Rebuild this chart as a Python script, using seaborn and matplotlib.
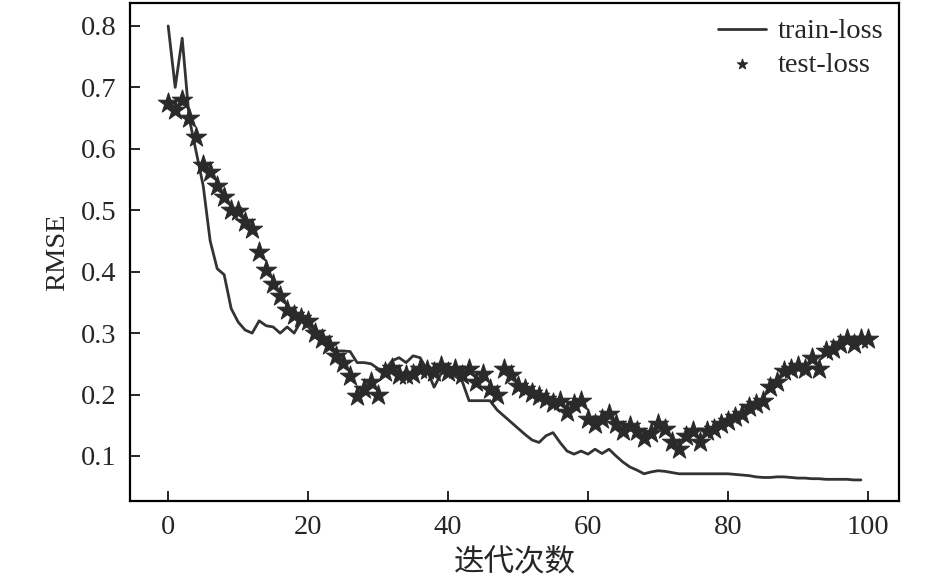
import numpy as np
import pandas as pd
import matplotlib
matplotlib.use("Agg")
import matplotlib.pyplot as plt
import seaborn as sns

# values
train_epoch = list(range(0, 100))
train_loss = [0.80, 0.70, 0.78, 0.65, 0.595, 0.54, 0.45, 0.405, 0.395, 0.34,
              0.318, 0.305, 0.30, 0.32, 0.312, 0.31, 0.30, 0.31, 0.30, 0.32,
              0.31, 0.30, 0.29, 0.28, 0.271, 0.271, 0.27, 0.252, 0.252, 0.25,
              0.242, 0.24, 0.255, 0.26, 0.252, 0.263, 0.26, 0.24, 0.212, 0.234,
              0.236, 0.23, 0.222, 0.19, 0.19, 0.19, 0.19, 0.175, 0.165, 0.155,
              0.145, 0.135, 0.126, 0.122, 0.133, 0.138, 0.122, 0.108, 0.103, 0.108,
              0.103, 0.111, 0.104, 0.111, 0.10, 0.09, 0.082, 0.077, 0.071, 0.074,
              0.076, 0.075, 0.073, 0.071, 0.071, 0.071, 0.071, 0.071, 0.071, 0.071,
              0.071, 0.07, 0.069, 0.068, 0.066, 0.065, 0.065, 0.066, 0.066, 0.065,
              0.064, 0.064, 0.063, 0.063, 0.062, 0.062, 0.062, 0.062, 0.061, 0.061]

test_epoch = list(range(0, 101))
test_loss = [0.674, 0.663, 0.68, 0.65, 0.62, 0.573, 0.562, 0.54, 0.521, 0.50,
             0.499, 0.481, 0.47, 0.432, 0.402, 0.38, 0.361, 0.337, 0.329, 0.324,
             0.32, 0.30, 0.29, 0.28, 0.263, 0.252, 0.23, 0.198, 0.209, 0.22,
             0.20, 0.236, 0.244, 0.231, 0.231, 0.234, 0.242, 0.24, 0.236, 0.247,
             0.236, 0.242, 0.231, 0.242, 0.22, 0.234, 0.209, 0.20, 0.242, 0.231,
             0.214, 0.209, 0.203, 0.198, 0.193, 0.187, 0.19, 0.171, 0.185, 0.19,
             0.16, 0.152, 0.16, 0.168, 0.152, 0.141, 0.149, 0.141, 0.13, 0.138,
             0.152, 0.144, 0.122, 0.111, 0.133, 0.141, 0.122, 0.141, 0.144, 0.152,
             0.157, 0.163, 0.168, 0.179, 0.185, 0.19, 0.212, 0.22, 0.239, 0.242,
             0.247, 0.242, 0.26, 0.242, 0.271, 0.274, 0.282, 0.29, 0.282, 0.29,
             0.29]

x_ticks = [0, 20, 40, 60, 80, 100]
y_ticks = [0.1, 0.2, 0.3, 0.4, 0.5, 0.6, 0.7, 0.8]

train_df = pd.DataFrame({"epoch": train_epoch, "loss": train_loss})
test_df = pd.DataFrame({"epoch": test_epoch, "loss": test_loss})

sns.set_style("ticks")
plt.rcParams['font.family'] = ['Liberation Serif', 'Noto Sans CJK SC', 'DejaVu Sans']
plt.rcParams['axes.linewidth'] = 1.6

fig = plt.figure(figsize=(9.45, 5.81), dpi=100)
ax = fig.add_axes([0.138, 0.138, 0.813, 0.857])

dark = "#333333"
sns.lineplot(data=train_df, x="epoch", y="loss", ax=ax, color=dark,
             linewidth=2.0, label="train-loss")
sns.scatterplot(data=test_df, x="epoch", y="loss", ax=ax, marker="*",
                s=230, color="#2a2a2a", edgecolor="#2a2a2a", linewidth=0.8,
                label="test-loss", zorder=3)

ax.set_xlim(-5.4, 104.4)
ax.set_ylim(0.027, 0.8375)
ax.set_xticks(x_ticks)
ax.set_yticks(y_ticks)
ax.set_yticklabels([f"{v:.1f}" for v in y_ticks])
ax.tick_params(direction="in", length=7, width=1.4, labelsize=20.5,
               top=False, right=False, pad=10)
for side in ["top", "right", "left", "bottom"]:
    ax.spines[side].set_visible(True)
    ax.spines[side].set_color("black")

ax.set_xlabel("迭代次数", fontsize=22, labelpad=6)
ax.set_ylabel("RMSE", fontsize=20.5, labelpad=8)

leg = ax.legend(loc="upper right", frameon=False, fontsize=20.5,
                handlelength=1.7, handletextpad=0.4, labelspacing=0.25,
                markerscale=0.5, borderaxespad=0.15)

fig.savefig("out.png", dpi=100)
